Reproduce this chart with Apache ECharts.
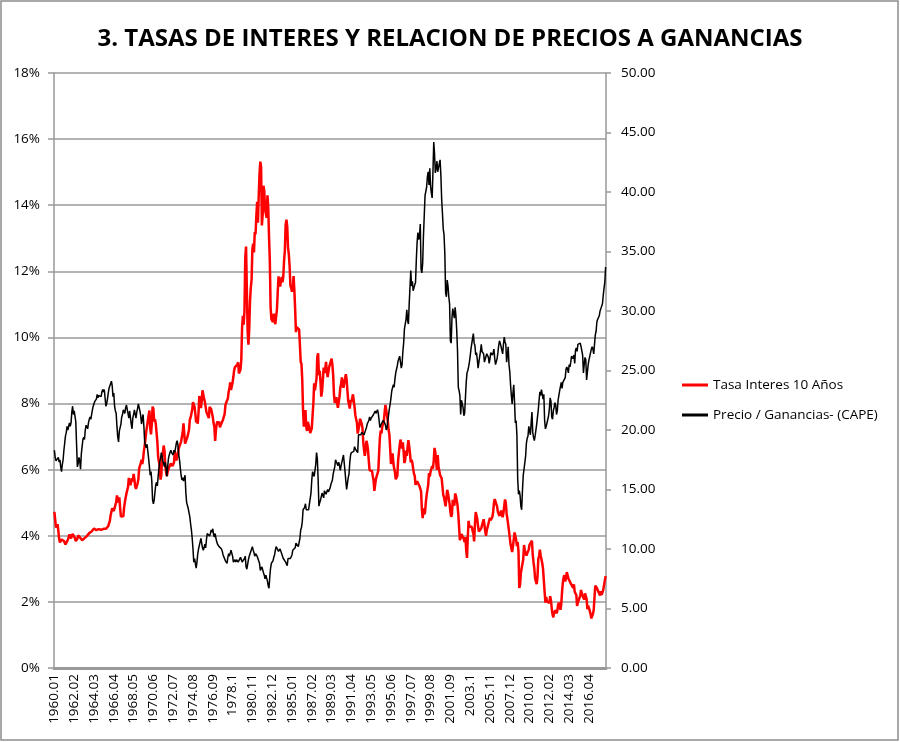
<!DOCTYPE html>
<html>
<head>
<meta charset="utf-8">
<script src="https://cdn.jsdelivr.net/npm/echarts@6/dist/echarts.min.js"></script>
<style>
  html, body { margin: 0; padding: 0; background: #fff; }
  #chart { width: 900px; height: 742px; }
</style>
</head>
<body>
<div id="chart"></div>
<script>
// monthly, 1960.01 .. 2018.01
const firstYear = 1960
const lastYear = 2018
const lastMonth = 1

// 10-year rate, %
const tasa = [
  4.72, 4.49, 4.25, 4.28, 4.35, 4.15, 3.90, 3.80, 3.80, 3.89, 3.93, 3.84,
  3.84, 3.78, 3.74, 3.78, 3.71, 3.88, 3.92, 4.04, 3.98, 3.92, 3.94, 4.06,
  4.08, 4.04, 3.93, 3.84, 3.87, 3.91, 4.01, 3.98, 3.98, 3.93, 3.92, 3.86,
  3.83, 3.92, 3.93, 3.97, 3.93, 3.99, 4.02, 4.00, 4.08, 4.11, 4.12, 4.13,
  4.17, 4.15, 4.22, 4.23, 4.20, 4.17, 4.19, 4.19, 4.20, 4.19, 4.15, 4.18,
  4.19, 4.21, 4.21, 4.20, 4.21, 4.21, 4.20, 4.25, 4.29, 4.35, 4.45, 4.62,
  4.61, 4.83, 4.87, 4.75, 4.78, 4.81, 5.02, 5.22, 5.18, 5.01, 5.16, 4.84,
  4.58, 4.63, 4.54, 4.59, 4.85, 5.02, 5.16, 5.28, 5.30, 5.48, 5.75, 5.70,
  5.53, 5.56, 5.74, 5.64, 5.87, 5.72, 5.50, 5.42, 5.46, 5.58, 5.70, 6.03,
  6.04, 6.19, 6.30, 6.17, 6.32, 6.57, 6.72, 6.69, 7.16, 7.10, 7.14, 7.65,
  7.79, 7.24, 7.07, 7.39, 7.91, 7.84, 7.46, 7.53, 7.39, 7.33, 6.84, 6.39,
  6.24, 6.11, 5.70, 5.83, 6.39, 6.52, 6.73, 6.58, 6.14, 5.93, 5.81, 5.93,
  5.95, 6.08, 6.07, 6.19, 6.13, 6.11, 6.11, 6.21, 6.55, 6.48, 6.28, 6.36,
  6.46, 6.64, 6.71, 6.67, 6.85, 6.90, 7.13, 7.40, 7.09, 6.79, 6.73, 6.74,
  6.99, 6.96, 7.21, 7.51, 7.58, 7.54, 7.81, 8.04, 8.04, 7.90, 7.68, 7.43,
  7.50, 7.39, 7.73, 8.23, 8.06, 7.86, 8.06, 8.40, 8.43, 8.14, 8.05, 8.00,
  7.74, 7.79, 7.73, 7.56, 7.90, 7.86, 7.83, 7.77, 7.59, 7.41, 7.29, 6.87,
  7.21, 7.39, 7.46, 7.37, 7.46, 7.28, 7.33, 7.40, 7.34, 7.52, 7.58, 7.69,
  7.96, 8.03, 8.04, 8.15, 8.35, 8.46, 8.64, 8.41, 8.42, 8.64, 8.81, 9.01,
  9.10, 9.10, 9.12, 9.18, 9.25, 8.91, 8.95, 9.03, 9.33, 10.30, 10.65, 10.39,
  10.80, 12.41, 12.75, 11.47, 10.18, 9.78, 10.25, 11.10, 11.51, 11.75, 12.68, 12.84,
  12.57, 13.19, 13.12, 13.68, 14.10, 13.47, 14.28, 14.94, 15.32, 15.15, 13.39, 13.72,
  14.59, 14.43, 13.86, 13.87, 13.62, 14.30, 13.95, 13.06, 12.34, 10.91, 10.55, 10.54,
  10.46, 10.72, 10.51, 10.40, 10.38, 10.85, 11.38, 11.85, 11.65, 11.54, 11.69, 11.83,
  11.67, 11.84, 12.32, 12.63, 13.41, 13.56, 13.36, 12.72, 12.52, 12.16, 11.57, 11.50,
  11.38, 11.51, 11.86, 11.43, 10.85, 10.16, 10.31, 10.33, 10.37, 10.24, 9.78, 9.26,
  9.19, 8.70, 7.78, 7.30, 7.71, 7.80, 7.30, 7.17, 7.45, 7.43, 7.25, 7.11,
  7.08, 7.25, 7.25, 8.02, 8.61, 8.40, 8.45, 8.76, 9.42, 9.52, 8.86, 8.99,
  8.67, 8.21, 8.37, 8.72, 9.09, 8.92, 9.06, 9.26, 8.98, 8.80, 8.96, 9.11,
  9.09, 9.17, 9.36, 9.18, 8.86, 8.28, 8.02, 8.11, 8.19, 8.01, 7.87, 7.84,
  8.21, 8.47, 8.59, 8.79, 8.76, 8.48, 8.47, 8.75, 8.89, 8.72, 8.39, 8.08,
  8.09, 7.85, 8.11, 8.04, 8.07, 8.28, 8.27, 7.90, 7.65, 7.53, 7.42, 7.09,
  7.03, 7.34, 7.54, 7.48, 7.39, 7.26, 6.84, 6.59, 6.42, 6.59, 6.87, 6.77,
  6.60, 6.26, 5.98, 5.97, 6.04, 5.96, 5.81, 5.68, 5.36, 5.33, 5.72, 5.77,
  5.75, 5.97, 6.48, 6.97, 7.18, 7.10, 7.30, 7.24, 7.46, 7.74, 7.96, 7.81,
  7.78, 7.47, 7.20, 7.06, 6.63, 6.17, 6.28, 6.49, 6.20, 6.04, 5.93, 5.71,
  5.65, 5.81, 6.27, 6.51, 6.74, 6.91, 6.87, 6.64, 6.83, 6.53, 6.20, 6.30,
  6.58, 6.42, 6.69, 6.89, 6.71, 6.49, 6.22, 6.30, 6.21, 6.03, 5.88, 5.81,
  5.54, 5.57, 5.65, 5.64, 5.65, 5.50, 5.46, 5.34, 4.81, 4.53, 4.83, 4.65,
  4.72, 5.00, 5.23, 5.18, 5.54, 5.90, 5.79, 5.94, 5.92, 6.11, 6.03, 6.28,
  6.66, 6.52, 6.26, 5.99, 6.44, 6.10, 6.05, 5.83, 5.80, 5.74, 5.72, 5.24,
  5.16, 5.10, 4.89, 5.14, 5.39, 5.28, 5.24, 4.97, 4.73, 4.57, 4.65, 5.09,
  5.04, 4.91, 5.28, 5.21, 5.16, 4.93, 4.65, 4.26, 3.87, 3.94, 4.05, 4.03,
  4.05, 3.90, 3.81, 3.96, 3.57, 3.33, 3.98, 4.45, 4.27, 4.29, 4.30, 4.27,
  4.15, 4.08, 3.83, 4.35, 4.72, 4.73, 4.50, 4.28, 4.13, 4.10, 4.19, 4.23,
  4.22, 4.17, 4.50, 4.34, 4.14, 4.00, 4.18, 4.26, 4.20, 4.46, 4.54, 4.47,
  4.42, 4.57, 4.72, 4.99, 5.11, 5.11, 5.09, 4.88, 4.72, 4.73, 4.60, 4.56,
  4.76, 4.72, 4.56, 4.69, 4.75, 5.10, 5.00, 4.67, 4.52, 4.53, 4.15, 4.10,
  3.74, 3.74, 3.51, 3.68, 3.88, 4.10, 4.01, 3.89, 3.69, 3.81, 3.53, 2.42,
  2.52, 2.87, 2.82, 2.93, 3.29, 3.72, 3.56, 3.59, 3.40, 3.39, 3.40, 3.59,
  3.73, 3.69, 3.73, 3.85, 3.42, 3.20, 3.01, 2.70, 2.65, 2.54, 2.76, 3.29,
  3.39, 3.58, 3.41, 3.46, 3.17, 3.00, 3.00, 2.30, 1.98, 2.15, 2.01, 1.98,
  1.97, 1.97, 2.17, 2.05, 1.80, 1.62, 1.53, 1.68, 1.72, 1.75, 1.65, 1.72,
  1.91, 1.98, 1.96, 1.76, 1.93, 2.30, 2.58, 2.74, 2.81, 2.62, 2.72, 2.90,
  2.86, 2.71, 2.72, 2.71, 2.56, 2.60, 2.54, 2.42, 2.53, 2.30, 2.33, 2.21,
  1.88, 1.98, 2.04, 1.94, 2.20, 2.36, 2.32, 2.17, 2.17, 2.07, 2.26, 2.24,
  2.09, 1.78, 1.89, 1.81, 1.81, 1.64, 1.50, 1.56, 1.63, 1.76, 2.14, 2.49,
  2.43, 2.42, 2.48, 2.30, 2.30, 2.19, 2.32, 2.21, 2.20, 2.36, 2.35, 2.40,
  2.78
]

// Shiller CAPE
const cape = [
  18.3, 17.7, 17.4, 17.4, 17.3, 17.7, 17.3, 17.5, 16.9, 16.5, 17.1, 17.5,
  18.3, 18.9, 19.5, 19.8, 20.3, 20.0, 19.9, 20.6, 20.3, 20.6, 21.5, 22.0,
  21.3, 21.6, 21.5, 20.7, 18.8, 16.9, 17.2, 17.7, 17.4, 16.7, 18.0, 18.6,
  19.2, 19.4, 19.2, 20.0, 20.4, 20.4, 20.1, 20.6, 20.9, 21.1, 20.9, 21.3,
  21.7, 22.0, 22.2, 22.4, 22.4, 22.6, 23.0, 22.7, 22.9, 23.0, 23.0, 22.8,
  23.2, 23.4, 23.2, 23.4, 23.4, 22.0, 22.2, 22.6, 23.1, 23.5, 23.5, 23.6,
  24.1, 23.7, 22.8, 23.1, 22.0, 21.6, 21.4, 20.3, 19.4, 19.0, 19.9, 20.0,
  20.5, 21.1, 21.3, 21.7, 21.6, 21.4, 21.9, 22.1, 22.1, 22.0, 21.0, 21.6,
  21.7, 20.5, 20.1, 21.0, 21.3, 21.7, 21.6, 21.0, 21.5, 21.8, 22.2, 22.3,
  21.6, 21.2, 20.5, 21.0, 21.3, 20.3, 19.0, 18.7, 18.5, 18.8, 18.8, 17.6,
  16.9, 16.2, 16.5, 15.7, 14.1, 13.8, 14.1, 14.8, 15.4, 15.6, 15.3, 16.1,
  16.8, 17.3, 17.6, 18.1, 17.8, 17.4, 17.3, 16.9, 17.3, 16.8, 16.1, 16.9,
  17.6, 17.9, 18.1, 18.3, 18.1, 18.2, 17.9, 18.3, 18.1, 18.1, 18.9, 19.1,
  18.7, 17.9, 17.5, 16.8, 16.2, 15.8, 16.0, 15.7, 15.8, 16.2, 14.7, 13.9,
  13.9, 13.4, 13.5, 12.7, 12.1, 11.6, 10.9, 10.0, 8.9, 9.2, 9.3, 8.4,
  8.9, 9.6, 10.0, 10.1, 10.6, 10.9, 10.9, 10.1, 9.9, 10.1, 10.4, 10.1,
  10.8, 11.3, 11.4, 11.3, 11.1, 11.3, 11.6, 11.4, 11.7, 11.2, 11.0, 11.3,
  10.9, 10.6, 10.4, 10.3, 10.2, 10.2, 10.3, 10.0, 9.8, 9.5, 9.6, 9.4,
  9.0, 8.9, 8.8, 9.3, 9.6, 9.4, 9.4, 9.9, 10.0, 9.4, 8.9, 9.0,
  9.1, 8.9, 9.1, 9.2, 8.9, 9.0, 8.9, 9.3, 9.3, 8.9, 8.8, 9.0,
  9.2, 9.4, 8.5, 8.3, 8.7, 9.1, 9.4, 9.6, 9.6, 9.7, 10.2, 9.9,
  9.7, 9.4, 9.6, 9.6, 9.4, 9.3, 9.0, 8.8, 8.2, 8.2, 8.5, 8.5,
  8.0, 7.8, 7.5, 7.8, 7.8, 7.3, 6.9, 6.7, 7.7, 8.4, 8.8, 8.8,
  9.0, 9.3, 9.5, 9.9, 10.2, 10.3, 10.1, 9.8, 9.9, 10.0, 9.8, 9.8,
  9.7, 9.2, 9.1, 9.1, 8.9, 8.8, 8.6, 9.2, 9.3, 9.2, 9.2, 9.2,
  9.5, 9.9, 9.8, 9.9, 10.1, 10.5, 10.6, 10.4, 10.2, 10.3, 10.9, 11.6,
  11.8, 12.3, 13.3, 13.4, 13.5, 13.8, 13.3, 13.4, 13.4, 13.3, 13.8, 13.9,
  14.7, 15.8, 16.5, 16.3, 16.1, 16.6, 17.1, 18.1, 17.6, 15.9, 13.6, 13.9,
  14.1, 14.4, 14.7, 14.6, 14.3, 14.9, 14.9, 14.6, 14.7, 15.0, 14.8, 14.8,
  15.1, 15.4, 15.3, 15.8, 16.3, 16.6, 16.9, 17.5, 17.5, 17.6, 17.0, 17.3,
  17.0, 16.6, 17.0, 17.0, 17.6, 17.9, 17.8, 16.5, 15.7, 15.0, 15.5, 16.0,
  16.3, 17.3, 17.9, 18.1, 18.0, 18.2, 18.2, 18.6, 18.4, 18.5, 18.4, 18.1,
  19.6, 19.7, 19.5, 19.6, 19.8, 19.7, 19.8, 19.6, 19.8, 19.7, 20.2, 20.5,
  20.6, 20.8, 21.1, 20.8, 21.0, 21.0, 21.0, 21.3, 21.4, 21.6, 21.4, 21.4,
  21.7, 21.4, 20.8, 20.2, 20.4, 20.3, 20.4, 20.8, 20.9, 20.6, 20.4, 20.0,
  20.2, 20.8, 21.3, 21.8, 22.2, 22.7, 23.3, 23.3, 23.8, 23.6, 24.3, 24.8,
  24.8, 25.4, 25.8, 26.0, 26.2, 26.2, 25.2, 25.5, 26.6, 27.3, 28.5, 28.4,
  29.3, 30.1, 29.2, 28.9, 30.6, 32.0, 33.4, 32.1, 32.5, 31.7, 31.6, 32.2,
  32.4, 34.3, 35.8, 36.6, 36.0, 36.3, 37.3, 33.5, 33.2, 34.0, 36.3, 38.0,
  39.7, 39.8, 40.4, 41.3, 41.7, 40.6, 42.0, 40.5, 39.9, 39.5, 41.7, 44.2,
  43.2, 41.6, 42.0, 42.6, 41.7, 41.6, 41.8, 42.7, 41.4, 39.4, 38.2, 36.9,
  36.4, 34.8, 31.5, 31.2, 32.6, 32.1, 31.2, 30.6, 27.5, 27.3, 29.4, 30.2,
  30.2, 29.4, 30.3, 29.6, 28.4, 26.7, 23.6, 23.3, 22.9, 21.3, 22.5, 22.6,
  21.9, 21.2, 21.4, 22.7, 24.0, 24.8, 25.0, 25.3, 25.7, 26.2, 26.8, 26.7,
  27.7, 28.1, 27.3, 27.1, 26.3, 26.5, 25.9, 25.2, 25.7, 25.8, 26.6, 27.2,
  26.6, 26.5, 26.4, 25.7, 25.7, 26.2, 26.4, 26.3, 26.1, 25.6, 26.0, 26.5,
  26.5, 26.3, 26.5, 26.8, 26.0, 25.5, 25.5, 26.0, 26.5, 27.1, 27.5, 27.3,
  27.2, 27.4, 26.4, 27.2, 27.8, 27.4, 27.2, 25.7, 26.3, 27.0, 25.5, 24.9,
  23.8, 22.9, 22.2, 23.1, 23.8, 22.4, 20.6, 20.8, 19.6, 15.9, 14.6, 14.9,
  14.5, 13.6, 13.3, 14.9, 16.2, 16.7, 16.8, 17.8, 18.9, 19.3, 19.5, 20.3,
  20.3, 19.6, 20.6, 21.5, 19.8, 19.4, 19.1, 19.5, 19.6, 20.5, 21.1, 21.7,
  22.5, 23.2, 22.9, 23.4, 23.3, 22.6, 23.0, 20.8, 20.1, 20.3, 20.6, 20.5,
  21.2, 21.8, 22.7, 22.4, 21.1, 20.9, 21.6, 21.9, 22.3, 22.1, 21.3, 21.6,
  22.5, 22.9, 23.3, 23.3, 24.0, 23.5, 24.0, 23.9, 24.0, 24.4, 25.1, 25.3,
  25.1, 24.8, 25.5, 25.3, 25.7, 26.2, 26.1, 26.0, 26.3, 25.6, 26.7, 26.9,
  26.6, 27.2, 27.1, 27.2, 27.3, 27.0, 26.9, 26.3, 24.8, 25.5, 26.1, 25.9,
  24.2, 24.2, 25.5, 25.9, 25.9, 26.0, 26.8, 27.0, 26.8, 26.4, 27.2, 28.0,
  28.3, 29.1, 29.3, 29.2, 29.6, 30.0, 30.2, 30.3, 30.6, 31.3, 31.9, 32.4,
  33.7
]

// category labels written like the spreadsheet does: 1978.1 for October
const categories = []
for (let y = firstYear; y <= lastYear; y++) {
    for (let m = 1; m <= 12; m++) {
        if (y === lastYear && m > lastMonth) break
        const mm = m < 10 ? '0' + m : (m === 10 ? '1' : String(m))
        categories.push(y + '.' + mm)
    }
}

const title = '3. TASAS DE INTERES Y RELACION DE PRECIOS A GANANCIAS'
const seriesNames = ['Tasa Interes 10 Años', 'Precio / Ganancias- (CAPE)']
const colors = ['#ff0000', '#000000']
const font = 'Open Sans, Noto Sans, sans-serif'

const chart = echarts.init(document.getElementById('chart'), null, { renderer: 'canvas' })

chart.setOption({
    animation: false,
    backgroundColor: '#fff',
    color: colors,
    title: {
        text: title,
        left: 'center',
        top: 22,
        textStyle: { fontFamily: font, fontWeight: 'bold', fontSize: 24, color: '#000' }
    },
    legend: {
        orient: 'vertical',
        left: 677,
        top: 373,
        itemGap: 16,
        itemWidth: 26,
        itemHeight: 3,
        icon: 'rect',
        textStyle: { fontFamily: font, fontSize: 13.5, color: '#000' },
        data: seriesNames
    },
    grid: { left: 54, right: 294, top: 73, bottom: 74 },
    xAxis: {
        type: 'category',
        data: categories,
        boundaryGap: true,
        axisLine: { lineStyle: { color: '#999', width: 3 } },
        axisTick: { show: false },
        axisLabel: {
            interval: 24,
            rotate: 90,
            margin: 6,
            fontFamily: font,
            fontSize: 13.5,
            color: '#000'
        },
        splitLine: { show: false }
    },
    yAxis: [
        {
            type: 'value',
            min: 0,
            max: 18,
            interval: 2,
            position: 'left',
            axisLine: { show: true, lineStyle: { color: '#999', width: 1.5 } },
            axisTick: { show: true, length: 6, lineStyle: { color: '#999', width: 1.5 } },
            axisLabel: {
                formatter: v => v + '%',
                fontFamily: font, fontSize: 13.5, color: '#000', margin: 14
            },
            splitLine: { show: true, lineStyle: { color: '#9a9a9a', width: 1.5 } }
        },
        {
            type: 'value',
            min: 0,
            max: 50,
            interval: 5,
            position: 'right',
            axisLine: { show: true, lineStyle: { color: '#999', width: 1.5 } },
            axisTick: { show: true, length: 5, lineStyle: { color: '#999', width: 1.5 } },
            axisLabel: {
                formatter: v => v.toFixed(2),
                fontFamily: font, fontSize: 13.5, color: '#000', margin: 15
            },
            splitLine: { show: false }
        }
    ],
    series: [
        {
            name: seriesNames[0],
            type: 'line',
            yAxisIndex: 0,
            data: tasa,
            symbol: 'none',
            lineStyle: { color: colors[0], width: 2.5 }
        },
        {
            name: seriesNames[1],
            type: 'line',
            yAxisIndex: 1,
            data: cape,
            symbol: 'none',
            lineStyle: { color: colors[1], width: 1.5 }
        }
    ],
    graphic: [
        {
            type: 'rect',
            shape: { x: 1, y: 1, width: 897, height: 739 },
            style: { fill: 'none', stroke: '#8c8c8c', lineWidth: 1.5 },
            silent: true
        }
    ]
})
</script>
</body>
</html>
